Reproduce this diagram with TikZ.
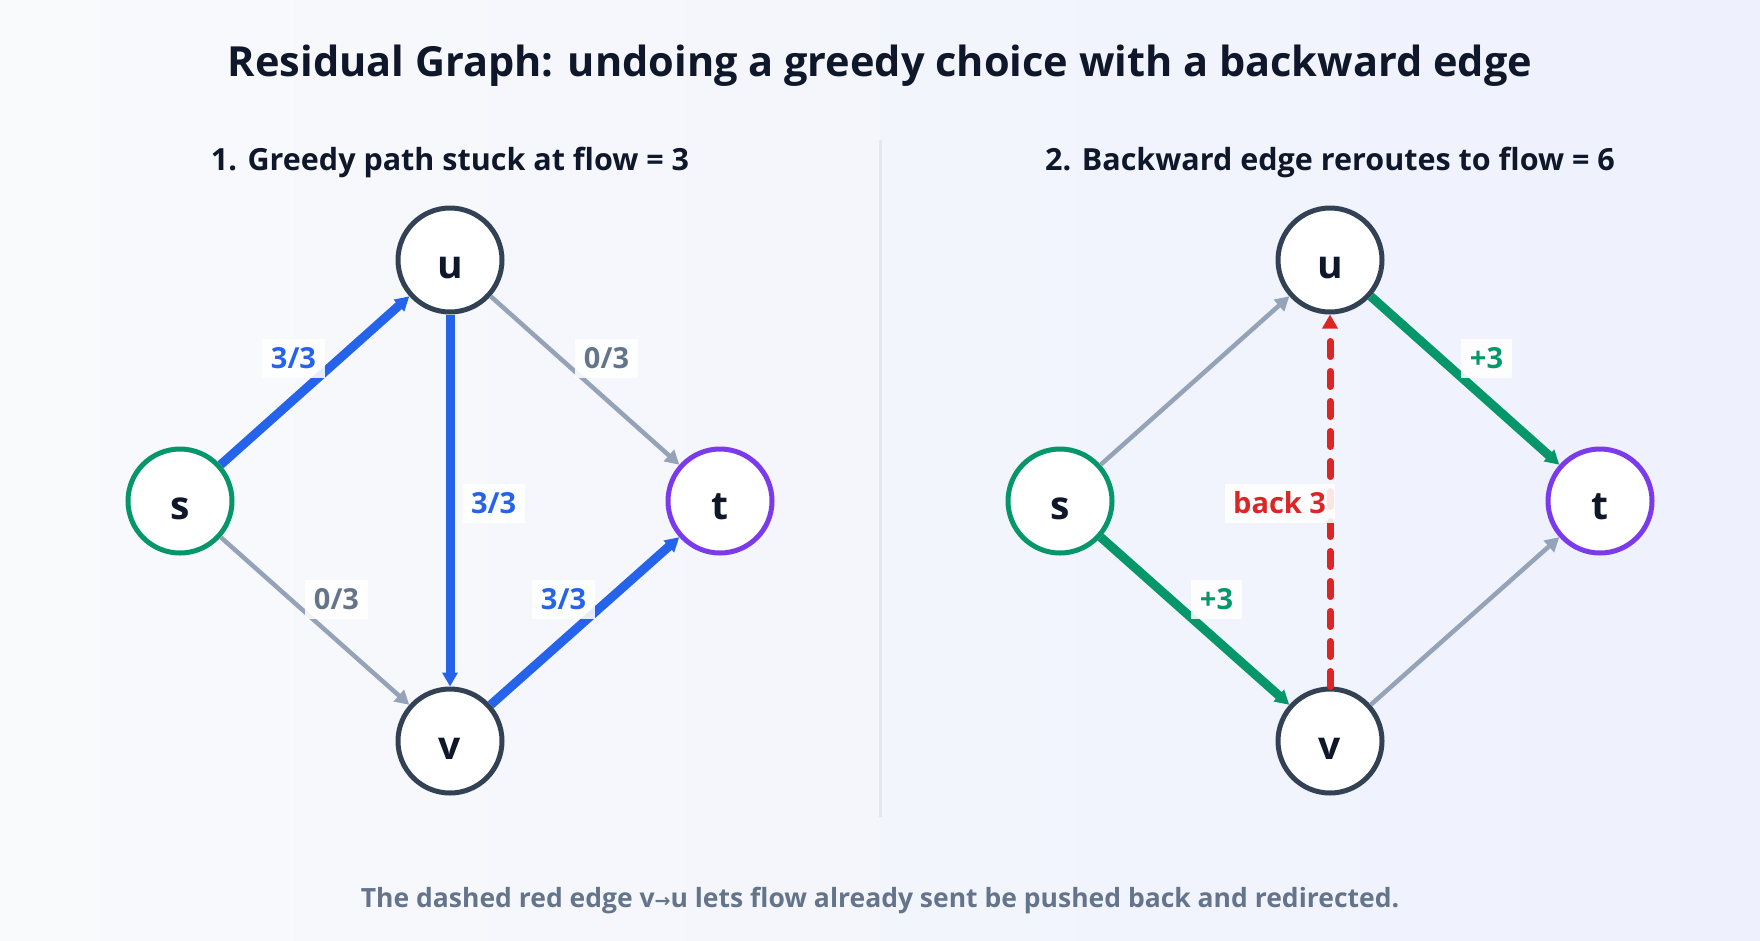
\documentclass[tikz,border=0pt]{standalone}
\usepackage{fontspec}
\setmainfont{Open Sans}
\newfontfamily\symfont{DejaVu Sans}
\usepackage{tikz}
\usetikzlibrary{arrows.meta,positioning}
\definecolor{ink}{HTML}{0F172A}
\definecolor{slate}{HTML}{334155}
\definecolor{muted}{HTML}{64748B}
\definecolor{edgegray}{HTML}{94A3B8}
\definecolor{flowblue}{HTML}{2563EB}
\definecolor{gain}{HTML}{059669}
\definecolor{sinkpurple}{HTML}{7C3AED}
\definecolor{backred}{HTML}{DC2626}
\definecolor{rule}{HTML}{E2E8F0}
\definecolor{bgA}{HTML}{F9FAFC}
\definecolor{bgB}{HTML}{EEF1FD}

\begin{document}
\begin{tikzpicture}[x=1pt,y=-1pt,
    vertex/.style={circle,draw=slate,fill=white,line width=5pt,minimum size=104pt,inner sep=0pt,
      text=ink,font=\fontsize{39}{39}\selectfont\bfseries,text height=36pt,text depth=0pt},
    source/.style={vertex,draw=gain},
    sink/.style={vertex,draw=sinkpurple},
    tip/.style={-{Triangle[length=14pt,width=15pt]}},
    idle/.style={tip,draw=edgegray,line width=4.5pt},
    flow/.style={tip,draw=flowblue,line width=9pt},
    push/.style={tip,draw=gain,line width=9pt},
    undo/.style={tip,draw=backred,line width=7pt,line cap=round,dash pattern=on 15pt off 15pt},
    lbl/.style={fill=white,fill opacity=0.88,text opacity=1,inner xsep=8.5pt,inner ysep=9.5pt,
      text height=20pt,text depth=0pt,font=\fontsize{29}{29}\selectfont\bfseries},
    heading/.style={text=ink,font=\fontsize{30.5}{30.5}\selectfont\bfseries}]
  \useasboundingbox (0,0) rectangle (1760,940);
  \fill[left color=bgA,right color=bgB] (0,0) rectangle (1760,940);

  \node[text=ink,font=\fontsize{41.5}{41.5}\selectfont\bfseries] (title) at (880,66)
    {Residual Graph: undoing a greedy choice with a backward edge};
  \node[heading] (headL) at (450,162) {1. Greedy path stuck at flow = 3};
  \node[heading] (headR) at (1330,162) {2. Backward edge reroutes to flow = 6};
  \coordinate (divtop) at (880,140);
  \coordinate (divbot) at (880,817);
  \draw[rule,line width=3pt] (divtop) -- (divbot);

  \node[source] (Ls) at (180,501) {s};
  \node[vertex] (Lu) at (450,260) {u};
  \node[sink]   (Lt) at (720,501) {t};
  \node[vertex] (Lv) at (450,741) {v};
  \draw[flow] (Ls) -- (Lu) node[lbl,text=flowblue,midway,xshift=-21.5pt,yshift=22pt] {3/3};
  \draw[idle] (Lu) -- (Lt) node[lbl,text=muted,midway,xshift=21.5pt,yshift=22pt] {0/3};
  \draw[idle] (Ls) -- (Lv) node[lbl,text=muted,midway,xshift=21.5pt,yshift=22pt] {0/3};
  \draw[flow] (Lv) -- (Lt) node[lbl,text=flowblue,midway,xshift=-21.5pt,yshift=22pt] {3/3};
  \draw[flow] (Lu) -- (Lv) node[lbl,text=flowblue,midway,anchor=west,xshift=8pt,yshift=-3pt] {3/3};

  \node[source] (Rs) at (1060,501) {s};
  \node[vertex] (Ru) at (1330,260) {u};
  \node[sink]   (Rt) at (1600,501) {t};
  \node[vertex] (Rv) at (1330,741) {v};
  \draw[idle] (Rs) -- (Ru);
  \draw[push] (Ru) -- (Rt) node[lbl,text=gain,midway,xshift=21.5pt,yshift=22pt] {+3};
  \draw[push] (Rs) -- (Rv) node[lbl,text=gain,midway,xshift=21.5pt,yshift=22pt] {+3};
  \draw[idle] (Rv) -- (Rt);
  \draw[undo] (Rv) -- (Ru) node[lbl,text=backred,midway,anchor=east,xshift=8pt,yshift=-3pt] {back 3};

  \node[text=muted,font=\fontsize{26.5}{26.5}\selectfont\bfseries] (note) at (880,901)
    {The dashed red edge v{\symfont\fontsize{19}{19}\selectfont→}u lets flow already sent be pushed back and redirected.};
\end{tikzpicture}
\end{document}
